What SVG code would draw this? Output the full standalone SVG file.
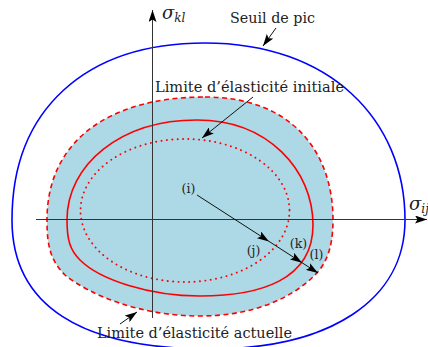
<svg xmlns="http://www.w3.org/2000/svg" width="428" height="347" viewBox="0 0 428 347">
<style>
text{font-family:"DejaVu Serif","Liberation Serif",serif;fill:#222}
.lbl{font-size:14px}
.pt{font-size:12.5px;text-anchor:middle}
.sig{font-size:18px;font-style:italic}
.sub{font-size:12px;font-style:italic}
.axis{stroke:#333;stroke-width:1;fill:none}
.lead{stroke:#111;stroke-width:1;fill:none}
</style>
<defs>
<marker id="ah" viewBox="0 0 12 8" refX="12" refY="4" markerWidth="12" markerHeight="8" markerUnits="userSpaceOnUse" orient="auto">
<path d="M0,0 L12,4 L0,8 L2.5,4 Z" fill="#000"/>
</marker>
<marker id="axh" viewBox="0 0 12 8" refX="12" refY="4" markerWidth="12" markerHeight="8" markerUnits="userSpaceOnUse" orient="auto">
<path d="M0,0 L12,4 L0,8 L2.5,4 Z" fill="#000"/>
</marker>
</defs>
<g id="peak-threshold">
<path d="M205,43 C330,43 405,120 405,220 C405,300 330,349 210,349 C80,349 12,305 12,220 C12,110 85,43 205,43 Z" fill="none" stroke="#0000ff" stroke-width="1.6"/>
</g>
<g id="current-limit">
<path d="M205,97 C290,97 333,150 333,220 C333,250 325,265 315,275 C290,300 250,316 200,316 C140,316 90,295 65,275 C50,260 47,245 47,220 C47,140 110,97 205,97 Z" fill="#add8e6" stroke="#ff0000" stroke-width="1.6" stroke-dasharray="5 3.5"/>
</g>
<g id="intermediate-limit">
<path d="M197,120 C268,120 313,170 313,225 C313,280 260,296 200,296 C150,296 100,280 80,260 C70,250 67,240 67,220 C67,165 120,120 197,120 Z" fill="none" stroke="#ff0000" stroke-width="1.6"/>
</g>
<g id="initial-limit">
<ellipse cx="185" cy="210.5" rx="104.5" ry="71.5" fill="none" stroke="#ff0000" stroke-width="1.9" stroke-dasharray="0.1 5.3" stroke-linecap="round"/>
</g>
<g id="axes">
<line class="axis" x1="152.5" y1="318" x2="152.5" y2="10" marker-end="url(#axh)"/>
<line class="axis" x1="36" y1="219.5" x2="427" y2="219.5" marker-end="url(#axh)"/>
<text class="sig" x="162" y="19">σ<tspan class="sub" dy="3">kl</tspan></text>
<text class="sig" x="409" y="210">σ<tspan class="sub" dy="3">ij</tspan></text>
</g>
<g id="labels">
<text class="lbl" x="230" y="22.5" textLength="85" lengthAdjust="spacingAndGlyphs">Seuil de pic</text>
<text class="lbl" x="155" y="91.5" textLength="189" lengthAdjust="spacingAndGlyphs">Limite d’élasticité initiale</text>
<text class="lbl" x="97" y="338" textLength="195" lengthAdjust="spacingAndGlyphs">Limite d’élasticité actuelle</text>
<text class="pt" x="188.5" y="193">(i)</text>
<text class="pt" x="253.5" y="255">(j)</text>
<text class="pt" x="298.5" y="248">(k)</text>
<text class="pt" x="316.5" y="259">(l)</text>
</g>
<g id="connectors">
<line class="lead" x1="276" y1="28" x2="263" y2="46" marker-end="url(#ah)"/>
<line class="lead" x1="253" y1="97" x2="202" y2="138" marker-end="url(#ah)"/>
<line class="lead" x1="120" y1="324" x2="137" y2="312" marker-end="url(#ah)"/>
<line class="lead" x1="197" y1="195" x2="269" y2="241.4" marker-end="url(#ah)"/>
<line class="lead" x1="269" y1="241.4" x2="302" y2="262.7" marker-end="url(#ah)"/>
<line class="lead" x1="302" y1="262.7" x2="318" y2="273" marker-end="url(#ah)"/>
</g>
</svg>
